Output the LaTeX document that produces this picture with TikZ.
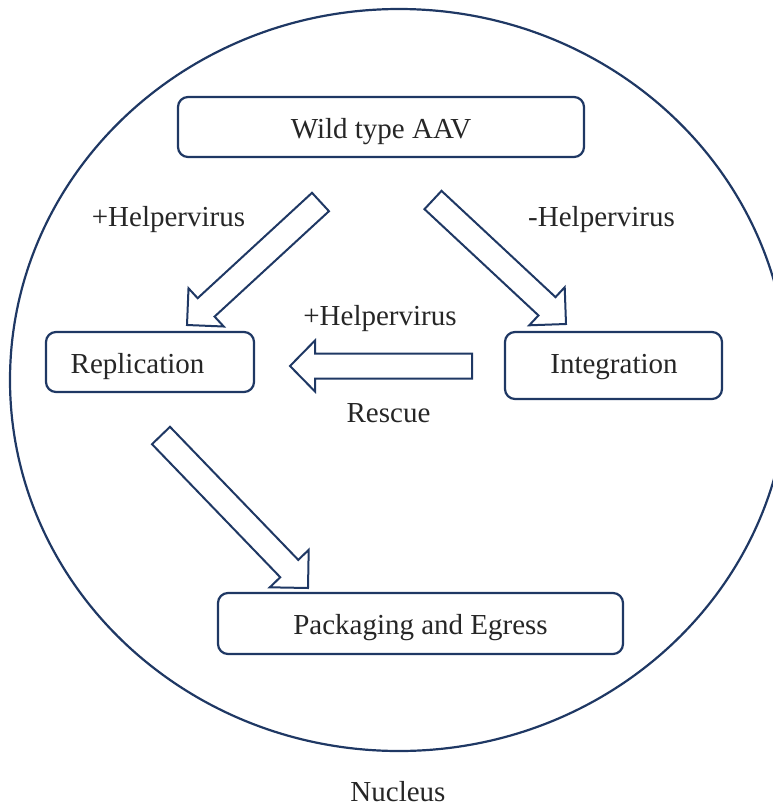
\documentclass[tikz,border=0pt]{standalone}
\usepackage{fontspec}
\setmainfont{Liberation Serif}
\usetikzlibrary{calc}
\definecolor{navy}{RGB}{31,56,100}
\definecolor{ink}{RGB}{38,38,38}
\tikzset{
  box/.style={draw=navy, line width=2.2pt, rounded corners=10pt, fill=white, inner sep=0pt},
  txt/.style={text=ink, font=\fontsize{29}{34}\selectfont, anchor=base, inner sep=0pt},
  barrow/.style={draw=navy, line width=2pt, fill=white, line join=miter},
  rim/.style={draw=navy, line width=2.2pt}
}
% block arrow from tail #1 to tip #2; half shaft #3, half head #4, head length #5
\newcommand{\blockarrow}[5]{%
  \draw[barrow] ($(#1)!#3!90:(#2)$) -- ($($(#2)!#5!(#1)$)!#3!90:(#2)$)
    -- ($($(#2)!#5!(#1)$)!#4!90:(#2)$) -- (#2)
    -- ($($(#2)!#5!(#1)$)!#4!-90:(#2)$) -- ($($(#2)!#5!(#1)$)!#3!-90:(#2)$)
    -- ($(#1)!#3!-90:(#2)$) -- cycle;}
\begin{document}
\begin{tikzpicture}[x=1pt,y=-1pt]
\useasboundingbox (0,0) rectangle (773,807);
\clip (0,0) rectangle (773,807);
% nucleus
\draw[rim] (399,380) ellipse [x radius=389, y radius=371];
\node[txt] (nuc) at (398,801) {Nucleus};
% boxes
\node[box, minimum width=406pt, minimum height=60pt] (wt) at (381,127) {};
\node[box, minimum width=208pt, minimum height=60pt] (rep) at (150,362) {};
\node[box, minimum width=217pt, minimum height=67pt] (int) at (613.5,365.5) {};
\node[box, minimum width=405pt, minimum height=61pt] (pack) at (420.5,623.5) {};
\node[txt] (wtt) at (381,138) {Wild type AAV};
\node[txt] (rept) at (137.5,373) {Replication};
\node[txt] (intt) at (614,373) {Integration};
\node[txt] (packt) at (420.5,634) {Packaging and Egress};
% labels
\node[txt] (l1) at (168.5,226) {+Helpervirus};
\node[txt] (l2) at (601.5,226) {-Helpervirus};
\node[txt] (l3) at (380,325) {+Helpervirus};
\node[txt] (l4) at (388.5,422) {Rescue};
% arrows
\coordinate (a1s) at (320.5,202);  \coordinate (a1e) at (187,325);
\coordinate (a2s) at (433,200);    \coordinate (a2e) at (566,324);
\coordinate (a3s) at (472,366);    \coordinate (a3e) at (290,366);
\coordinate (a4s) at (161,435.5);  \coordinate (a4e) at (308,588);
\blockarrow{a1s}{a1e}{12.5pt}{26pt}{26pt}
\blockarrow{a2s}{a2e}{12.5pt}{26pt}{26pt}
\blockarrow{a3s}{a3e}{12.5pt}{25.5pt}{25pt}
\blockarrow{a4s}{a4e}{12.5pt}{27pt}{27pt}
\end{tikzpicture}
\end{document}
